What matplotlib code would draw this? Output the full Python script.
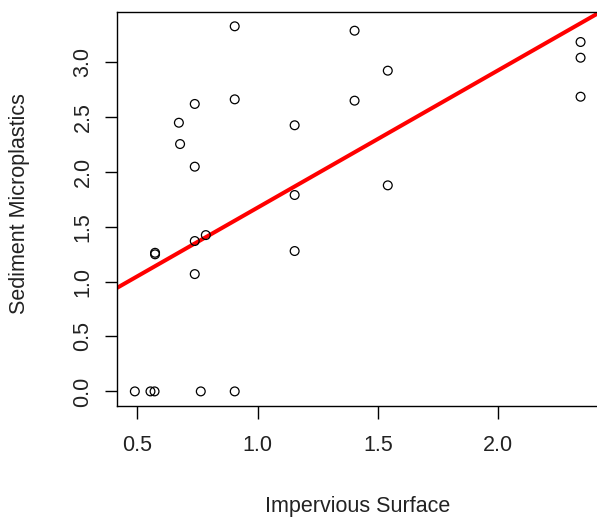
import matplotlib
matplotlib.use("Agg")
import matplotlib.pyplot as plt

# Data
impervious = [0.490, 0.555, 0.572, 0.764, 0.905,
              0.905, 1.403, 0.739, 0.905, 1.403,
              0.673, 1.154, 0.678, 0.739, 1.154,
              0.574, 0.574, 0.739, 0.785, 0.739,
              1.154, 1.541, 1.541, 2.342, 2.342, 2.342]
microplastics = [0.0, 0.0, 0.0, 0.0, 0.0,
                 3.324, 3.284, 2.617, 2.659, 2.647,
                 2.446, 2.423, 2.252, 2.046, 1.788,
                 1.262, 1.248, 1.369, 1.423, 1.068,
                 1.278, 2.920, 1.876, 3.181, 3.038, 2.683]
fit_intercept = 0.422
fit_slope = 1.251

x_ticks = [0.5, 1.0, 1.5, 2.0]
y_ticks = [0.0, 0.5, 1.0, 1.5, 2.0, 2.5, 3.0]

plt.rcParams['font.family'] = ['Liberation Sans', 'DejaVu Sans']
FS = 15.5

fig = plt.figure(figsize=(5.97, 5.17), dpi=100)
W, H = 597, 517
left, right, top, bottom = 117, 598.4, 11.7, 406.0
ax = fig.add_axes([left / W, 1 - bottom / H, (right - left) / W, (bottom - top) / H])

ax.scatter(impervious, microplastics, s=40, facecolors='none', edgecolors='black',
           linewidths=0.9, zorder=3)
ax.axline((0, fit_intercept), slope=fit_slope, color='#ff0000', linewidth=2.9, zorder=2)

xr = max(impervious) - min(impervious)
yr = max(microplastics) - min(microplastics)
ax.set_xlim(min(impervious) - 0.04 * xr, max(impervious) + 0.04 * xr)
ax.set_ylim(min(microplastics) - 0.04 * yr, max(microplastics) + 0.04 * yr)

ax.set_xticks(x_ticks)
ax.set_xticklabels([f"{v:.1f}" for v in x_ticks])
ax.set_yticks(y_ticks)
ax.set_yticklabels([f"{v:.1f}" for v in y_ticks], rotation=90, va='center')

ax.tick_params(axis='x', length=9, width=1, pad=12, labelsize=FS, colors='black')
ax.tick_params(axis='y', length=9, width=1, pad=8, labelsize=FS, colors='black')
for lbl in ax.get_xticklabels() + ax.get_yticklabels():
    lbl.set_color('#222222')
for sp in ax.spines.values():
    sp.set_linewidth(1.0)
    sp.set_color('black')

fig.text((left + right) / 2 / W, 1 - 511.7 / H, "Impervious Surface", ha='center',
         va='baseline', fontsize=FS, color='#222222')
fig.text(19.3 / W, 1 - 204 / H, "Sediment Microplastics", rotation=90, ha='center',
         va='center', fontsize=FS, color='#222222')

fig.savefig("out.png", dpi=100)
